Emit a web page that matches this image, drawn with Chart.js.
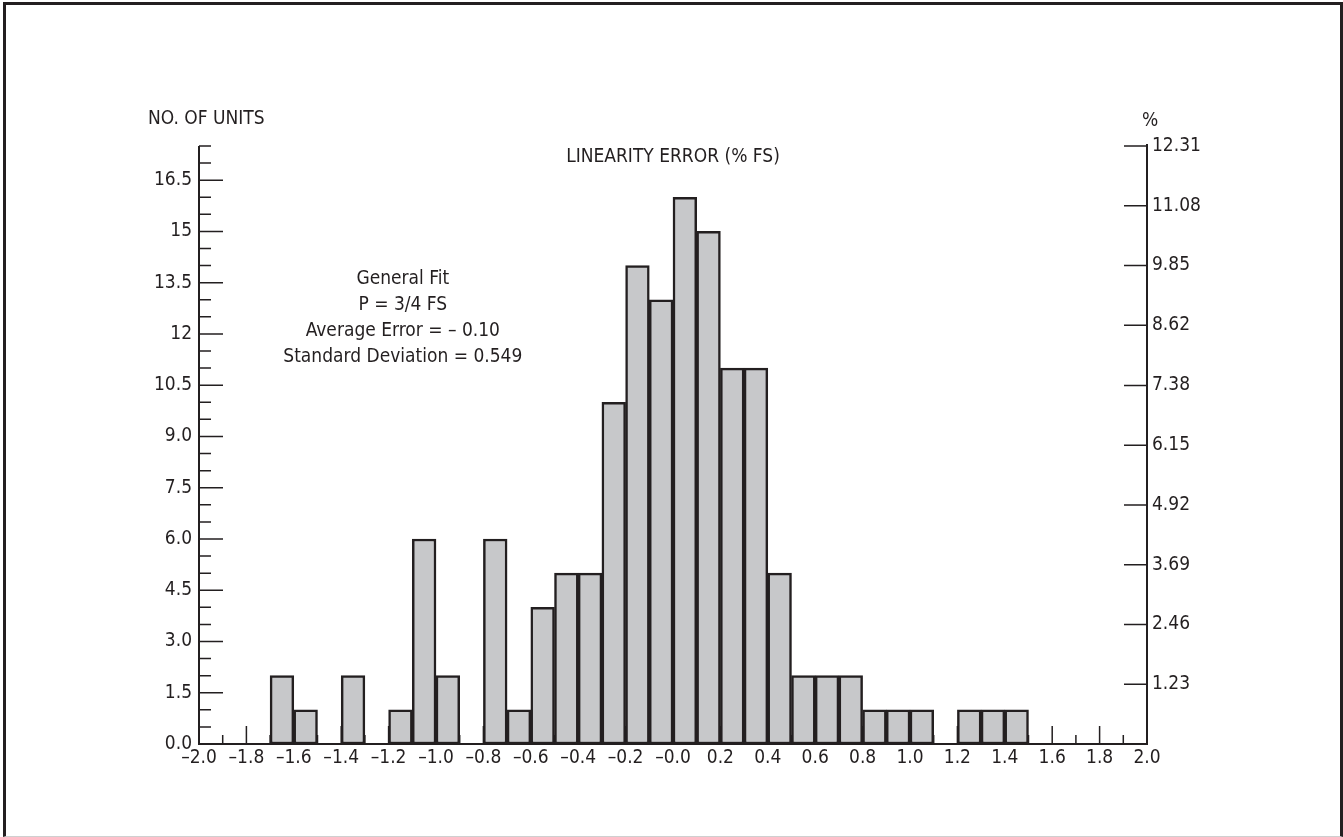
<!DOCTYPE html>
<html>
<head>
<meta charset="utf-8">
<script src="https://cdn.jsdelivr.net/npm/chart.js@4/dist/chart.umd.min.js"></script>
<style>
  html, body { margin: 0; padding: 0; background: #fff; }
  #wrap { position: relative; width: 1343px; height: 837px; overflow: hidden; }
  #frame {
    position: absolute; left: 3px; top: 2px; right: 0; bottom: 0;
    border-left: 3px solid #231f20; border-top: 3px solid #231f20;
    border-right: 3px solid #231f20; border-bottom: 1px solid #cfcfcf;
  }
  #chart { position: absolute; left: 0; top: 0; }
</style>
</head>
<body>
<div id="wrap">
  <div id="frame"></div>
  <canvas id="chart" width="1343" height="837"></canvas>
</div>
<script>
// histogram bins (lower edge of each 0.1 wide bin) and unit counts
const binStarts = [-1.7, -1.6, -1.4, -1.2, -1.1, -1.0, -0.8, -0.7, -0.6, -0.5, -0.4, -0.3, -0.2, -0.1,
  0.0, 0.1, 0.2, 0.3, 0.4, 0.5, 0.6, 0.7, 0.8, 0.9, 1.0, 1.2, 1.3, 1.4];
const units = [2, 1, 2, 1, 6, 2, 6, 1, 4, 5, 5, 10, 14, 13,
  16, 15, 11, 11, 5, 2, 2, 2, 1, 1, 1, 1, 1, 1];
const binWidth = 0.1;

const xLabels = ["\u20132.0", "\u20131.8", "\u20131.6", "\u20131.4", "\u20131.2", "\u20131.0", "\u20130.8",
  "\u20130.6", "\u20130.4", "\u20130.2", "\u20130.0", "0.2", "0.4", "0.6", "0.8", "1.0", "1.2", "1.4",
  "1.6", "1.8", "2.0"];
const yLabels = ["0.0", "1.5", "3.0", "4.5", "6.0", "7.5", "9.0", "10.5", "12", "13.5", "15", "16.5"];
const pctLabels = ["1.23", "2.46", "3.69", "4.92", "6.15", "7.38", "8.62", "9.85", "11.08", "12.31"];
const noteLines = ["General Fit", "P = 3/4 FS", "Average Error = \u2013 0.10", "Standard Deviation = 0.549"];

const FONT = '"Liberation Sans Narrow", "Arial Narrow", "DejaVu Sans Condensed", "Liberation Sans", Arial, sans-serif';
const INK = "#231f20";
const FS = 19;

// axes lines, inside tick marks and free text
const frameAxes = {
  id: "frameAxes",
  beforeDatasetsDraw(chart) {
    const { ctx, chartArea: a, scales } = chart;
    const x = scales.x, y = scales.y, yr = scales.yr;
    ctx.save();
    ctx.strokeStyle = INK;
    ctx.lineWidth = 1.5;
    ctx.beginPath();
    x.ticks.forEach((t, i) => {
      const px = x.getPixelForValue(t.value);
      const len = i % 2 === 0 ? 18 : 9;
      if (i === 0 || i === x.ticks.length - 1) return;
      ctx.moveTo(px, a.bottom);
      ctx.lineTo(px, a.bottom - len);
    });
    y.ticks.forEach((t, i) => {
      const py = y.getPixelForValue(t.value);
      const len = i % 3 === 0 ? 24 : 12;
      if (i === 0) return;
      ctx.moveTo(a.left, py);
      ctx.lineTo(a.left + len, py);
    });
    yr.ticks.forEach((t) => {
      const py = yr.getPixelForValue(t.value);
      ctx.moveTo(a.right, py);
      ctx.lineTo(a.right - 23, py);
    });
    ctx.stroke();
    ctx.lineWidth = 2;
    ctx.beginPath();
    ctx.moveTo(a.left, a.top);
    ctx.lineTo(a.left, a.bottom);
    ctx.lineTo(a.right, a.bottom);
    ctx.lineTo(a.right, yr.getPixelForValue(yr.max) - 2);
    ctx.stroke();

    ctx.fillStyle = INK;
    ctx.font = FS + "px " + FONT;
    ctx.textBaseline = "middle";
    ctx.textAlign = "left";
    ctx.fillText("NO. OF UNITS", 148, 119);
    ctx.textAlign = "center";
    ctx.fillText("%", a.right + 3, 121);
    ctx.fillText("LINEARITY ERROR (% FS)", (a.left + a.right) / 2, 157);
    const nx = x.getPixelForValue(-1.14);
    noteLines.forEach((s, i) => {
      ctx.fillText(s, nx, y.getPixelForValue(13.6) + i * 26);
    });
    ctx.restore();
  }
};

const ctx = document.getElementById("chart").getContext("2d");
new Chart(ctx, {
  type: "bar",
  data: {
    datasets: [{
      data: binStarts.map((b, i) => ({ x: b + binWidth / 2, y: units[i] })),
      backgroundColor: "#c7c8ca",
      borderColor: INK,
      borderWidth: 2.5,
      borderSkipped: false,
      barPercentage: 1,
      categoryPercentage: 1,
      yAxisID: "y"
    }]
  },
  options: {
    responsive: false,
    animation: false,
    layout: { padding: { top: 146, left: 0, right: 0, bottom: 0 } },
    plugins: { legend: { display: false }, tooltip: { enabled: false }, title: { display: false } },
    scales: {
      x: {
        type: "linear",
        min: -2, max: 2,
        offset: false,
        grid: { display: false, drawTicks: false, offset: false },
        border: { display: false },
        ticks: {
          stepSize: 0.1, autoSkip: false, maxRotation: 0, padding: 3,
          color: INK, font: { family: FONT, size: FS },
          callback: (v, i) => (i % 2 === 0 ? xLabels[i / 2] : "")
        },
        afterFit: (s) => { s.height = 93; s.paddingLeft = 0; s.paddingRight = 0; }
      },
      y: {
        position: "left",
        min: 0, max: 17.5,
        grid: { display: false, drawTicks: false },
        border: { display: false },
        ticks: {
          stepSize: 0.5, autoSkip: false, padding: 7,
          color: INK, font: { family: FONT, size: FS },
          callback: (v, i) => (i % 3 === 0 ? yLabels[i / 3] : "")
        },
        afterFit: (s) => { s.width = 199; s.paddingTop = 0; s.paddingBottom = 0; }
      },
      yr: {
        position: "right",
        min: 0, max: 12.31,
        grid: { display: false, drawTicks: false },
        border: { display: false },
        afterBuildTicks: (s) => { s.ticks = pctLabels.map((p) => ({ value: parseFloat(p) })); },
        ticks: {
          autoSkip: false, padding: 5,
          color: INK, font: { family: FONT, size: FS },
          callback: (v, i) => pctLabels[i]
        },
        afterFit: (s) => { s.width = 196; s.paddingTop = 0; s.paddingBottom = 0; }
      }
    }
  },
  plugins: [frameAxes]
});
</script>
</body>
</html>
